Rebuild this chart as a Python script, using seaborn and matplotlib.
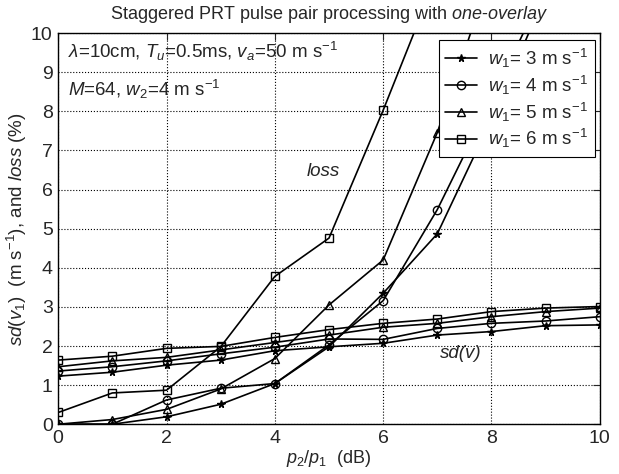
import numpy as np
import pandas as pd
import matplotlib
matplotlib.use('Agg')
import matplotlib.pyplot as plt
import seaborn as sns

# ============================================================
# DATA
# ============================================================

p_ratio_db = [0, 1, 2, 3, 4, 5, 6, 7, 8, 9, 10]

# standard deviation of velocity estimate, m s^-1
sd_w3 = [1.23, 1.33, 1.51, 1.64, 1.88, 1.98, 2.07, 2.28, 2.37, 2.52, 2.54]
sd_w4 = [1.36, 1.47, 1.62, 1.80, 1.97, 2.18, 2.17, 2.45, 2.58, 2.64, 2.75]
sd_w5 = [1.47, 1.62, 1.71, 1.90, 2.09, 2.28, 2.48, 2.58, 2.75, 2.88, 2.97]
sd_w6 = [1.64, 1.74, 1.94, 1.99, 2.22, 2.42, 2.58, 2.69, 2.88, 2.97, 3.01]

# loss in %, curves leave the top of the plot
loss_x_w3 = [0, 1, 2, 3, 4, 5, 6, 7, 8, 9]
loss_w3 = [0.0, 0.0, 0.19, 0.51, 1.04, 1.98, 3.35, 4.87, 7.8, 11.0]
loss_x_w4 = [0, 1, 2, 3, 4, 5, 6, 7, 8, 9]
loss_w4 = [0.0, 0.0, 0.62, 0.92, 1.04, 2.03, 3.16, 5.49, 8.3, 11.2]
loss_x_w5 = [0, 1, 2, 3, 4, 5, 6, 7, 8]
loss_w5 = [0.0, 0.12, 0.38, 0.90, 1.68, 3.05, 4.20, 7.46, 11.6]
loss_x_w6 = [0, 1, 2, 3, 4, 5, 6, 7]
loss_w6 = [0.30, 0.80, 0.87, 1.98, 3.78, 4.76, 8.03, 11.5]

labels = [r'$w_1$= 3 m s$^{-1}$', r'$w_1$= 4 m s$^{-1}$',
          r'$w_1$= 5 m s$^{-1}$', r'$w_1$= 6 m s$^{-1}$']
markers = ['*', 'o', '^', 's']

# ============================================================
# STYLE
# ============================================================

sns.set_style('white')
plt.rcParams['font.family'] = ['Liberation Sans', 'DejaVu Sans']
plt.rcParams['mathtext.fontset'] = 'custom'
plt.rcParams['mathtext.rm'] = 'Liberation Sans'
plt.rcParams['mathtext.it'] = 'Liberation Sans:italic'
plt.rcParams['mathtext.bf'] = 'Liberation Sans:bold'
plt.rcParams['font.size'] = 13

fig = plt.figure(figsize=(6.19, 4.74), dpi=100)
ax = fig.add_axes([0.094, 0.105, 0.875, 0.825])

sd_series = [sd_w3, sd_w4, sd_w5, sd_w6]
loss_series = [(loss_x_w3, loss_w3), (loss_x_w4, loss_w4),
               (loss_x_w5, loss_w5), (loss_x_w6, loss_w6)]

for i in range(4):
    m = markers[i]
    mfc = 'k' if m == '*' else 'none'
    ms = 5.5 if m == '*' else 6
    sns.lineplot(x=p_ratio_db, y=sd_series[i], ax=ax, color='k', lw=1.2,
                 marker=m, mfc=mfc, mec='k', mew=1.0, ms=ms, label=labels[i])
    lx, ly = loss_series[i]
    sns.lineplot(x=lx, y=ly, ax=ax, color='k', lw=1.2,
                 marker=m, mfc=mfc, mec='k', mew=1.0, ms=ms, legend=False)

ax.set_xlim(0, 10)
ax.set_ylim(0, 10)
ax.set_xticks(np.arange(0, 11, 2))
ax.set_yticks(np.arange(0, 11, 1))
ax.grid(True, linestyle=':', color='k', lw=0.8)
ax.tick_params(direction='in', top=True, right=True, length=5, labelsize=14, pad=4)
for s in ax.spines.values():
    s.set_color('k')
    s.set_linewidth(1.0)

ax.set_title(r'Staggered PRT pulse pair processing with $\it{one}$-$\it{overlay}$',
             fontsize=13, pad=10)
ax.set_xlabel(r'$p_2/p_1$  (dB)', fontsize=13, labelpad=1)
ax.set_ylabel(r'$sd$($v_1$)  (m s$^{-1}$), and $loss$ (%)', fontsize=13.5, labelpad=1)

ax.text(0.19, 9.54, r'$\lambda$=10cm, $T_u$=0.5ms, $v_a$=50 m s$^{-1}$',
        fontsize=13.5, va='center', ha='left')
ax.text(0.19, 8.56, r'$M$=64, $w_2$=4 m s$^{-1}$',
        fontsize=13.5, va='center', ha='left')
ax.text(4.9, 6.46, 'loss', style='italic', fontsize=13.5, ha='center', va='center')
ax.text(7.43, 1.82, 'sd(v)', style='italic', fontsize=13.5, ha='center', va='center')

leg = ax.legend(loc='upper right', bbox_to_anchor=(0.991, 0.982), borderaxespad=0,
                fancybox=False, framealpha=1, edgecolor='k', fontsize=13.5,
                handlelength=1.7, borderpad=0.35, labelspacing=0.2, handletextpad=0.6)
leg.get_frame().set_linewidth(0.8)

plt.savefig('out.png', dpi=100)
plt.close()
